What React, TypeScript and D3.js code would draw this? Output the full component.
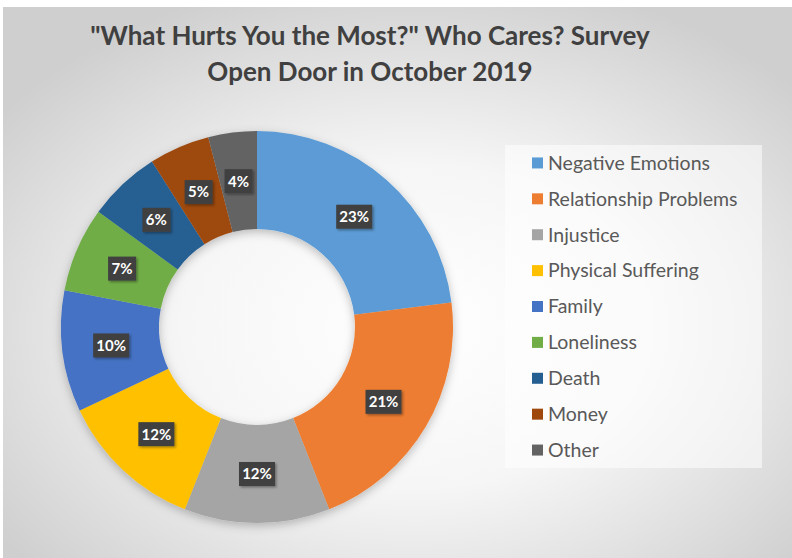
import { useMemo } from 'react';
import * as d3 from 'd3';

const categories = [
  'Negative Emotions',
  'Relationship Problems',
  'Injustice',
  'Physical Suffering',
  'Family',
  'Loneliness',
  'Death',
  'Money',
  'Other',
];
const values = [23, 21, 12, 12, 10, 7, 6, 5, 4];
const colors = ['#5B9BD5', '#ED7D31', '#A5A5A5', '#FFC000', '#4472C4', '#70AD47', '#255E91', '#9E480E', '#636363'];
const titleLines = ['"What Hurts You the Most?" Who Cares? Survey', 'Open Door in October 2019'];

const W = 792;
const H = 558;
const CX = 257;
const CY = 327;
const R_OUT = 196;
const R_IN = 98;
const FONT = 'Lato, "Open Sans", sans-serif';

export default function App() {
  const total = d3.sum(values);

  const arcs = useMemo(() => {
    const pie = d3.pie<number>().sort(null).value((d) => d);
    return pie(values);
  }, []);

  const arcGen = d3.arc<d3.PieArcDatum<number>>().innerRadius(R_IN).outerRadius(R_OUT);
  const labelArc = d3.arc<d3.PieArcDatum<number>>().innerRadius(147).outerRadius(147);

  const legendY = d3.scaleBand<string>().domain(categories).range([145, 468]);

  return (
    <svg width={W} height={H} style={{ position: 'absolute', left: 0, top: 0 }}>
      <defs>
        <radialGradient id="bg" cx="52%" cy="58%" r="65%">
          <stop offset="0%" stopColor="#ffffff" />
          <stop offset="45%" stopColor="#f6f6f6" />
          <stop offset="100%" stopColor="#cfcfcf" />
        </radialGradient>
        <filter id="ring" x="-20%" y="-20%" width="140%" height="140%">
          <feDropShadow dx="0" dy="3" stdDeviation="5" floodColor="#000" floodOpacity="0.25" />
        </filter>
        <filter id="box" x="-30%" y="-30%" width="160%" height="160%">
          <feDropShadow dx="1.5" dy="1.5" stdDeviation="1.2" floodColor="#000" floodOpacity="0.35" />
        </filter>
      </defs>
      <rect x={0} y={0} width={W} height={H} fill="#ffffff" />
      <rect x={3} y={7} width={W - 3} height={H - 7} fill="url(#bg)" />

      {titleLines.map((t, i) => (
        <text
          key={i}
          x={370}
          y={45 + i * 36}
          textAnchor="middle"
          fontFamily={FONT}
          fontWeight="bold"
          fontSize={26}
          fill="#404040"
        >
          {t}
        </text>
      ))}

      <g transform={`translate(${CX},${CY})`}>
        <g filter="url(#ring)">
          {arcs.map((a, i) => (
            <path key={i} d={arcGen(a) ?? ''} fill={colors[i]} />
          ))}
        </g>
        {arcs.map((a, i) => {
          const [lx, ly] = labelArc.centroid(a);
          const txt = `${Math.round((a.data / total) * 100)}%`;
          const bw = txt.length > 2 ? 36 : 28;
          return (
            <g key={`l${i}`} transform={`translate(${lx},${ly})`}>
              <rect x={-bw / 2} y={-12} width={bw} height={24} fill="#404040" filter="url(#box)" />
              <text
                textAnchor="middle"
                dy="0.36em"
                fontFamily={FONT}
                fontWeight="bold"
                fontSize={15}
                fill="#ffffff"
              >
                {txt}
              </text>
            </g>
          );
        })}
      </g>

      <rect x={505} y={145} width={257} height={323} fill="#ffffff" fillOpacity={0.55} />
      {categories.map((c, i) => {
        const y = (legendY(c) ?? 0) + legendY.bandwidth() / 2;
        return (
          <g key={c}>
            <rect x={532} y={y - 5.5} width={11} height={11} fill={colors[i]} />
            <text x={548} y={y} dy="0.35em" fontFamily={FONT} fontSize={19.5} fill="#595959">
              {c}
            </text>
          </g>
        );
      })}
    </svg>
  );
}
